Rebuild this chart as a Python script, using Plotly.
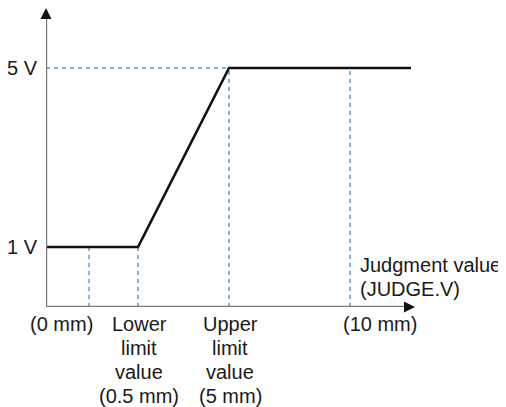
import plotly.graph_objects as go

# --- data (schematic positions along the judgment-value axis) ---
volt_levels = [1, 5]
volt_labels = ["1 V", "5 V"]

line_x = [0, 9.2, 18.3, 36.5]      # characteristic line
line_y = [1, 1, 5, 5]

dash_x = [4.3, 9.2, 18.3, 30.4]    # vertical guide lines
dash_top = [1, 1, 5, 5]

tick_label_x = [1.55, 9.3, 18.4, 33.4]
tick_labels = ["(0 mm)", "Lower<br>limit<br>value<br>(0.5 mm)",
               "Upper<br>limit<br>value<br>(5 mm)", "(10 mm)"]

axis_title = "Judgment value<br>(JUDGE.V)"
axis_title_x = 31.2
axis_title_y = 0.6

X_MAX = 36.9
Y_MIN, Y_MAX = -0.34, 6.34

FONT = dict(family="Liberation Sans, Arial, sans-serif", size=20, color="#1a1a1a")
BLUE = "#5b9bd5"
GRAY = "#7a7a7a"
LINE_STEP = 24

fig = go.Figure()

# blue dashed guides: vertical
for x, top in zip(dash_x, dash_top):
    fig.add_trace(go.Scatter(x=[x, x], y=[Y_MIN, top], mode="lines",
                             line=dict(color=BLUE, width=1.5, dash="4px,4px"),
                             hoverinfo="skip", showlegend=False))
# horizontal guide at 5 V
fig.add_trace(go.Scatter(x=[0, line_x[2]], y=[volt_levels[1], volt_levels[1]], mode="lines",
                         line=dict(color=BLUE, width=1.5, dash="4px,4px"),
                         hoverinfo="skip", showlegend=False))

# characteristic line
fig.add_trace(go.Scatter(x=line_x, y=line_y, mode="lines",
                         line=dict(color="#111111", width=2.6),
                         hoverinfo="skip", showlegend=False))

# axes lines
fig.add_trace(go.Scatter(x=[0, 0], y=[Y_MIN, Y_MAX - 0.1], mode="lines",
                         line=dict(color=GRAY, width=2.4),
                         hoverinfo="skip", showlegend=False))
fig.add_trace(go.Scatter(x=[0, X_MAX - 0.5], y=[Y_MIN, Y_MIN], mode="lines",
                         line=dict(color=GRAY, width=2.4),
                         hoverinfo="skip", showlegend=False))

annotations = []
# arrowheads
annotations.append(dict(x=0, y=Y_MAX, xref="x", yref="y", ax=0, ay=12,
                        showarrow=True, arrowhead=2, arrowsize=1.1, arrowwidth=2,
                        arrowcolor="#111111", text=""))
annotations.append(dict(x=X_MAX, y=Y_MIN, xref="x", yref="y", ax=-12, ay=0,
                        showarrow=True, arrowhead=2, arrowsize=1.1, arrowwidth=2,
                        arrowcolor="#111111", text=""))

# voltage labels
for v, lab in zip(volt_levels, volt_labels):
    annotations.append(dict(x=0, y=v, xref="x", yref="y", text=lab, showarrow=False,
                            xanchor="right", yanchor="middle", xshift=-6, font=FONT))

# x labels (one annotation per text line for exact line spacing)
for x, lab in zip(tick_label_x, tick_labels):
    for i, part in enumerate(lab.split("<br>")):
        annotations.append(dict(x=x, y=Y_MIN, xref="x", yref="y", text=part, showarrow=False,
                                xanchor="center", yanchor="middle",
                                yshift=-17 - LINE_STEP * i, font=FONT))

for i, part in enumerate(axis_title.split("<br>")):
    annotations.append(dict(x=axis_title_x, y=axis_title_y, xref="x", yref="y", text=part,
                            showarrow=False, xanchor="left", yanchor="middle",
                            yshift=-LINE_STEP * i, font=FONT))

# page body adds an 8px offset; figure size/margins compensate so the plot area
# sits where the reference has it (x 46..415, y 8..307 on the page)
fig.update_layout(
    width=498, height=399,
    margin=dict(l=38, r=91, t=0, b=100),
    paper_bgcolor="white", plot_bgcolor="white",
    xaxis=dict(range=[0, X_MAX], visible=False, fixedrange=True),
    yaxis=dict(range=[Y_MIN, Y_MAX], visible=False, fixedrange=True),
    annotations=annotations,
    showlegend=False,
)

fig.write_html("out.html")
